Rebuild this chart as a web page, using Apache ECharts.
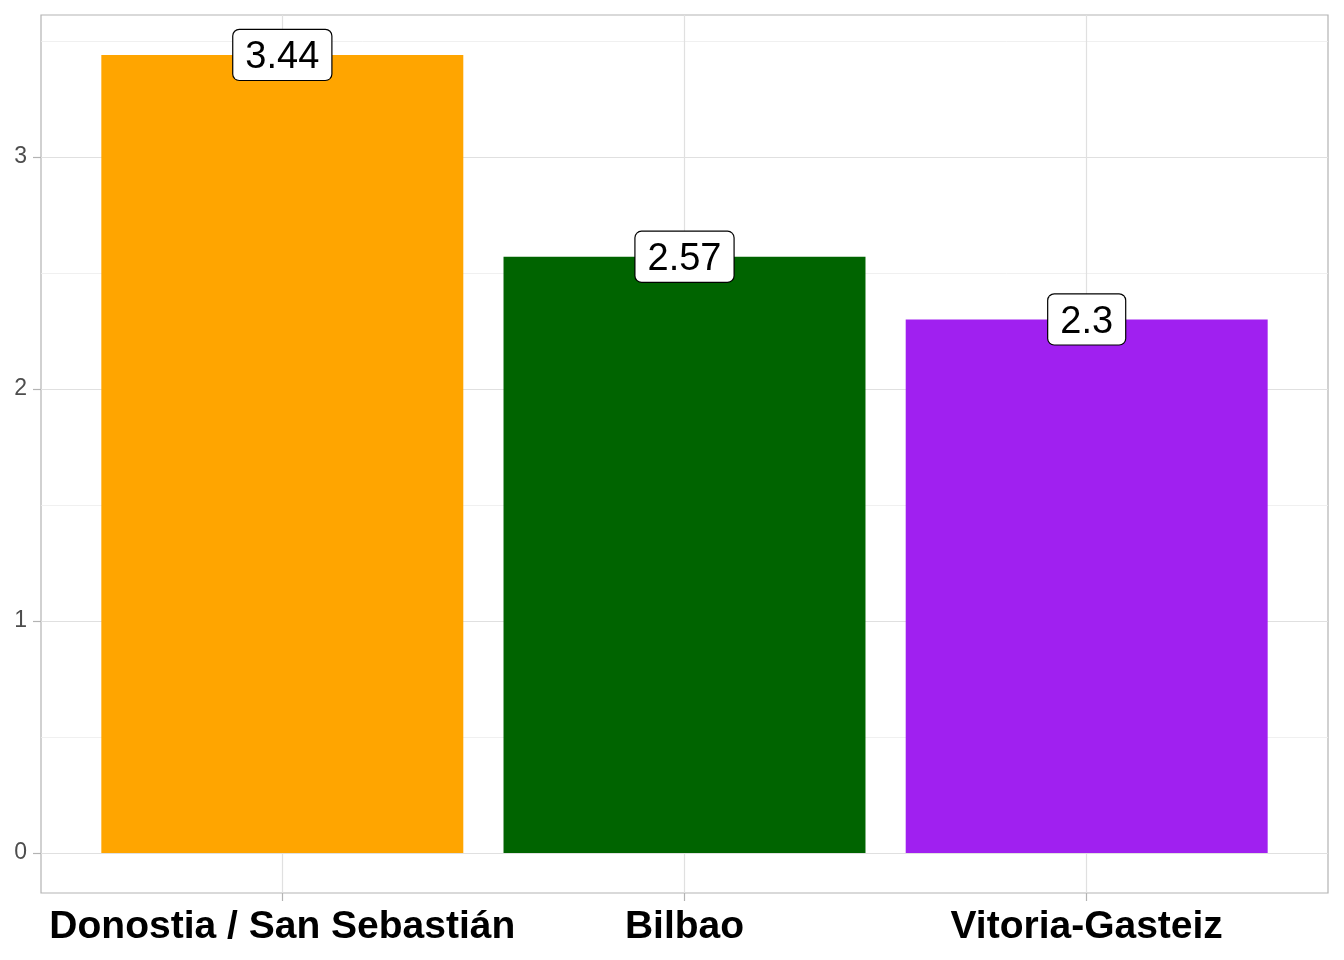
<!DOCTYPE html>
<html>
<head>
<meta charset="utf-8">
<script src="https://cdn.jsdelivr.net/npm/echarts@6/dist/echarts.min.js"></script>
<style>
html,body{margin:0;padding:0;background:#fff;}
#chart{width:1344px;height:960px;}
</style>
</head>
<body>
<div id="chart"></div>
<script>
const categories = ['Donostia / San Sebastián', 'Bilbao', 'Vitoria-Gasteiz'];
const values = [3.44, 2.57, 2.3];
const barColors = ['#FFA500', '#006400', '#A020F0'];
const yMajorTicks = [0, 1, 2, 3];
const yMinorTicks = [0.5, 1.5, 2.5, 3.5];
const xPositions = [1, 2, 3];

const yMax = Math.max(...values);
const yMin = -0.05 * yMax;
const yTop = yMax * 1.05;

const chart = echarts.init(document.getElementById('chart'));
const font = '"Liberation Sans", Arial, Helvetica, sans-serif';

chart.setOption({
  animation: false,
  backgroundColor: '#ffffff',
  grid: {
    left: 41, right: 16, top: 15, bottom: 67,
    show: true, borderColor: '#b3b3b3', borderWidth: 1.2, backgroundColor: 'transparent'
  },
  xAxis: {
    type: 'value',
    min: 0.4, max: 3.6,
    position: 'bottom',
    axisLine: { show: false, onZero: false },
    axisTick: { show: true, length: 8, customValues: xPositions, lineStyle: { color: '#b3b3b3', width: 1.2 } },
    axisLabel: {
      customValues: xPositions,
      margin: 15,
      formatter: v => categories[Math.round(v) - 1] || '',
      fontFamily: font, fontWeight: 'bold', fontSize: 39, color: '#000000'
    },
    splitLine: { show: true, lineStyle: { color: '#e0e0e0', width: 1.2 } }
  },
  yAxis: [
    {
      type: 'value',
      min: yMin, max: yTop,
      axisLine: { show: false, onZero: false },
      axisTick: { show: true, length: 8, customValues: yMajorTicks, lineStyle: { color: '#b3b3b3', width: 1.2 } },
      axisLabel: {
        customValues: yMajorTicks, margin: 14,
        fontFamily: font, fontSize: 23, color: '#4d4d4d'
      },
      splitLine: { show: true, lineStyle: { color: '#e0e0e0', width: 1.2 } }
    },
    {
      type: 'value',
      position: 'left',
      min: yMin, max: yTop,
      axisLine: { show: false, onZero: false },
      axisTick: { show: false, customValues: yMinorTicks },
      axisLabel: { show: false, customValues: yMinorTicks },
      splitLine: { show: true, lineStyle: { color: '#ececec', width: 0.8 } }
    }
  ],
  series: [{
    type: 'bar',
    yAxisIndex: 0,
    barWidth: '90%',
    data: values.map((v, i) => ({ value: [xPositions[i], v], itemStyle: { color: barColors[i] } })),
    label: {
      show: true,
      position: 'top',
      distance: 0,
      offset: [0, 25],
      formatter: p => String(p.value[1]),
      fontFamily: font, fontSize: 38, color: '#000000',
      lineHeight: 38,
      backgroundColor: '#ffffff',
      borderColor: '#000000', borderWidth: 1.2, borderRadius: 6,
      padding: [9, 12, 3, 12]
    }
  }]
});
</script>
</body>
</html>
